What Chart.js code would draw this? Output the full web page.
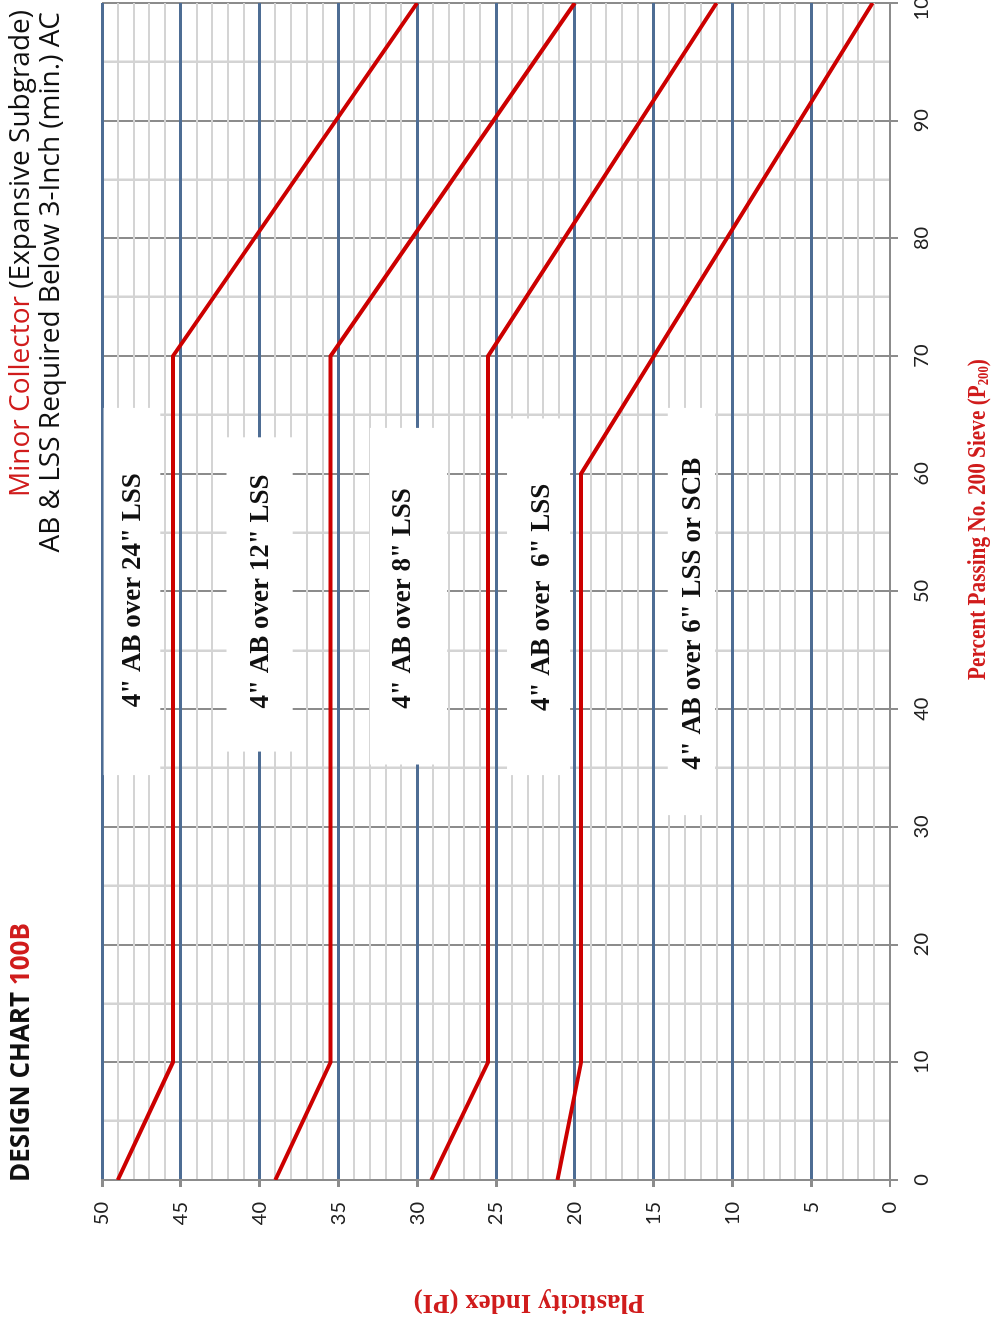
<!DOCTYPE html>
<html>
<head>
<meta charset="utf-8">
<script src="https://cdn.jsdelivr.net/npm/chart.js@4.4.1/dist/chart.umd.min.js"></script>
<style>
  html, body { margin: 0; padding: 0; background: #fff; overflow: hidden; width: 992px; height: 1322px; }
  /* chart is drawn landscape and turned a quarter turn counter-clockwise */
  #wrap { position: absolute; left: 0; top: 0; width: 1340px; height: 992px;
          transform-origin: 0 0; transform: translate(0px, 1322px) rotate(-90deg); }
</style>
</head>
<body>
<div id="wrap"><canvas id="chart" width="1340" height="992"></canvas></div>
<script>
// --- Data ---
const seriesNames = ['24" LSS', '12" LSS', '8" LSS', '6" LSS or SCB'];
const seriesP200 = [
    [0, 10, 70, 100],
    [0, 10, 70, 100],
    [0, 10, 70, 100],
    [0, 10, 60, 100]
];
const seriesPI = [
    [49, 45.5, 45.5, 30],
    [39, 35.5, 35.5, 20],
    [29.1, 25.5, 25.5, 11],
    [21.1, 19.6, 19.6, 1.1]
];
const zoneLabels = [
    '4" AB over 24" LSS',
    '4" AB over 12" LSS',
    '4" AB over 8" LSS',
    '4" AB over  6" LSS',
    '4" AB over 6" LSS or SCB'
];

// label anchors and white boxes, in data units (P200, PI)
const zoneLabelAt = [
    { p: 50.1, pi: 48.0 },
    { p: 50.0, pi: 39.9 },
    { p: 49.4, pi: 30.9 },
    { p: 49.5, pi: 22.1 },
    { p: 48.1, pi: 12.5 }
];
const zoneBoxes = [
    { p0: 34.4, p1: 65.6, pi0: 46.3, pi1: 49.9 },
    { p0: 36.4, p1: 63.1, pi0: 37.9, pi1: 42.1 },
    { p0: 35.3, p1: 63.9, pi0: 28.1, pi1: 33.0 },
    { p0: 34.4, p1: 64.7, pi0: 20.3, pi1: 24.3 },
    { p0: 31.0, p1: 65.6, pi0: 11.1, pi1: 14.1 }
];

const RED = '#cc0000';
const TITLE_RED = '#d01c1c';
const BLUE = '#4e6d94';
const DARK_GRID = '#8c8c8c';
const LIGHT_GRID = '#d4d4d4';

// --- Helpers ---
function drawRuns(ctx, runs, x, y, align) {
    let total = 0;
    runs.forEach(r => { ctx.font = r.font; total += ctx.measureText(r.text).width; });
    let cx = align === 'right' ? x - total : (align === 'center' ? x - total / 2 : x);
    runs.forEach(r => {
        ctx.font = r.font;
        ctx.fillStyle = r.color;
        ctx.textAlign = 'left';
        ctx.fillText(r.text, cx, y + (r.dy || 0));
        cx += ctx.measureText(r.text).width;
    });
}

const zonePlugin = {
    id: 'zones',
    beforeDatasetsDraw(chart) {
        const { ctx, scales: { x, y } } = chart;
        ctx.save();
        ctx.fillStyle = '#ffffff';
        zoneBoxes.forEach(b => {
            const l = x.getPixelForValue(b.p0), r = x.getPixelForValue(b.p1);
            const t = y.getPixelForValue(b.pi1), btm = y.getPixelForValue(b.pi0);
            ctx.fillRect(l, t, r - l, btm - t);
        });
        ctx.font = 'bold 27px "Liberation Serif"';
        ctx.fillStyle = '#111';
        ctx.textAlign = 'center';
        ctx.textBaseline = 'middle';
        zoneLabels.forEach((txt, i) => {
            const a = zoneLabelAt[i];
            ctx.fillText(txt, x.getPixelForValue(a.p), y.getPixelForValue(a.pi));
        });
        ctx.restore();
    }
};

const titlePlugin = {
    id: 'titles',
    afterDraw(chart) {
        const ctx = chart.ctx;
        ctx.save();
        ctx.textBaseline = 'middle';
        drawRuns(ctx, [
            { text: 'DESIGN CHART ', color: '#111', font: 'bold 26px "Open Sans"' },
            { text: '100B', color: TITLE_RED, font: 'bold 26px "Open Sans"' }
        ], 140, 22, 'left');
        drawRuns(ctx, [
            { text: 'Minor Collector', color: TITLE_RED, font: '28px "Open Sans"' },
            { text: ' (Expansive Subgrade)', color: '#111', font: '28px "Open Sans"' }
        ], 1312, 21, 'right');
        drawRuns(ctx, [
            { text: 'AB & LSS Required Below 3-Inch (min.) AC', color: '#111', font: '28px "Open Sans"' }
        ], 1310, 51, 'right');

        // x axis title with subscript
        ctx.save();
        ctx.translate(642, 979);
        ctx.scale(0.85, 1);
        drawRuns(ctx, [
            { text: 'Percent Passing No. 200 Sieve (P', color: TITLE_RED, font: 'bold 25px "Liberation Serif"' },
            { text: '200', color: TITLE_RED, font: 'bold 15px "Liberation Serif"', dy: 5 },
            { text: ')', color: TITLE_RED, font: 'bold 25px "Liberation Serif"' }
        ], 0, 0, 'left');
        ctx.restore();

        // y axis title
        ctx.save();
        ctx.translate(20, 529);
        ctx.rotate(-Math.PI / 2);
        drawRuns(ctx, [
            { text: 'Plasticity Index (PI)', color: TITLE_RED, font: 'bold 27px "Liberation Serif"' }
        ], 0, 0, 'center');
        ctx.restore();
        ctx.restore();
    }
};

// --- Chart ---
const datasets = seriesNames.map((name, i) => ({
    label: name,
    data: seriesP200[i].map((p, j) => ({ x: p, y: seriesPI[i][j] })),
    showLine: true,
    borderColor: RED,
    borderWidth: 4,
    pointRadius: 0,
    tension: 0
}));

const tickFont = { family: 'Lato', size: 20 };

new Chart(document.getElementById('chart'), {
    type: 'scatter',
    data: { datasets },
    options: {
        responsive: false,
        animation: false,
        layout: { padding: { top: 102, left: 0, right: 21, bottom: 0 } },
        plugins: { legend: { display: false }, tooltip: { enabled: false } },
        scales: {
            x: {
                type: 'linear', min: 0, max: 100,
                afterFit: s => { s.height = 102; s.paddingLeft = 0; s.paddingRight = 0; },
                ticks: {
                    stepSize: 5, autoSkip: false, maxRotation: 0, minRotation: 0,
                    font: tickFont, color: '#222', padding: 12,
                    callback: v => (v % 10 === 0 ? v : '')
                },
                grid: {
                    color: c => (c.tick && c.tick.value % 10 === 0 ? DARK_GRID : LIGHT_GRID),
                    lineWidth: c => (c.tick && c.tick.value % 10 === 0 ? 2 : 2.5),
                    tickLength: 8,
                    tickColor: c => (c.tick && c.tick.value % 10 === 0 ? DARK_GRID : 'rgba(0,0,0,0)')
                },
                border: { color: DARK_GRID, width: 2 }
            },
            y: {
                type: 'linear', min: 0, max: 50,
                afterFit: s => { s.width = 142; s.paddingTop = 0; s.paddingBottom = 0; },
                ticks: {
                    stepSize: 1, autoSkip: false,
                    font: tickFont, color: '#222', padding: 15,
                    callback: v => (v % 5 === 0 ? v : '')
                },
                grid: {
                    color: c => {
                        const v = c.tick ? c.tick.value : 1;
                        if (v === 0) return DARK_GRID;
                        return v % 5 === 0 ? BLUE : LIGHT_GRID;
                    },
                    lineWidth: c => (c.tick && c.tick.value % 5 === 0 && c.tick.value !== 0 ? 3 : 2),
                    tickLength: 7,
                    tickColor: c => (c.tick && c.tick.value % 5 === 0 ? DARK_GRID : 'rgba(0,0,0,0)')
                },
                border: { color: DARK_GRID, width: 2 }
            }
        }
    },
    plugins: [zonePlugin, titlePlugin]
});
</script>
</body>
</html>
